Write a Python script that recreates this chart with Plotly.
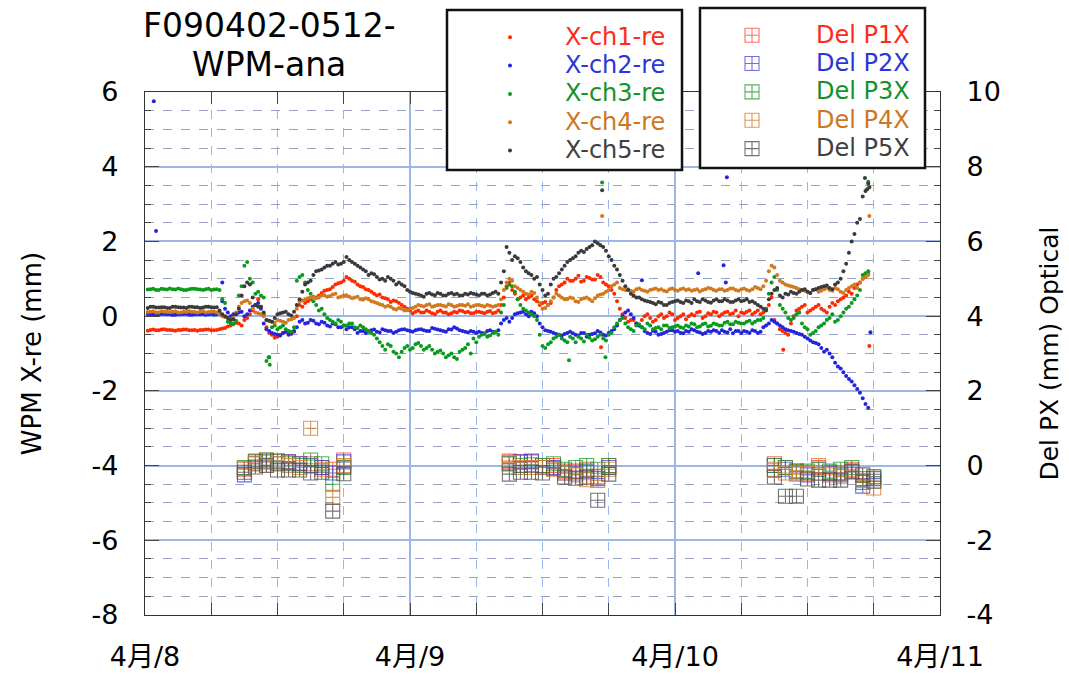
import plotly.graph_objects as go
import pandas as pd

BASE = pd.Timestamp("2009-04-08 00:00")

# sampling grids of the WPM channels (hours after 4/8 00:00)
hours = [0.5 * i for i in range(1, 132)]          # 0.5 .. 65.5
hours_b = [0.25 + 0.5 * i for i in range(131)]    # 0.25 .. 65.25

ch1 = [-0.37, -0.38, -0.36, -0.37, -0.38, -0.37, -0.36, -0.38, -0.37, -0.37, -0.36, -0.38,
       -0.37, -0.33, -0.28, -0.22, -0.20, -0.10, 0.05, 0.30, 0.25, -0.30, -0.50, -0.55,
       -0.45, -0.47, -0.42, 0.30, 0.35, 0.45, 0.50, 0.62, 0.70, 0.78, 0.88, 0.95,
       1.00, 0.92, 0.80, 0.72, 0.65, 0.55, 0.50, 0.45, 0.42, 0.35, 0.25, 0.15,
       0.12, 0.10, 0.15, 0.08, 0.12, 0.10, 0.05, 0.12, 0.15, 0.10, 0.08, 0.12,
       0.10, 0.12, 0.08, 0.15, 0.50, 0.90, 0.60, 0.50, 0.45, 0.55, 0.40, 0.35,
       0.30, 0.50, 0.80, 0.90, 0.95, 1.00, 0.92, 1.05, 0.98, 1.10, 0.90, 0.80,
       0.60, 0.20, -0.05, -0.10, -0.20, -0.10, 0.05, -0.15, 0.00, -0.05, 0.10, -0.10,
       0.00, -0.08, 0.05, 0.10, -0.05, 0.08, 0.12, 0.00, 0.10, 0.05, 0.15, 0.10,
       0.12, 0.05, 0.15, 0.10, 0.30, -0.10, -0.35, -0.45, -0.20, 0.15, 0.25, 0.10,
       0.20, 0.30, 0.15, 0.25, 0.30, 0.45, 0.55, 0.60, 0.85, 1.00, 1.15]
ch1_b = [-0.39, -0.36, -0.38, -0.35, -0.37, -0.39, -0.37, -0.36, -0.38, -0.39, -0.37, -0.36,
         -0.38, -0.35, -0.32, -0.25, -0.18, -0.25, -0.05, 0.15, 0.45, 0.05, -0.45, -0.58,
         -0.50, -0.42, -0.48, 0.00, 0.25, 0.40, 0.52, 0.55, 0.68, 0.72, 0.85, 0.90,
         1.05, 0.95, 0.85, 0.78, 0.70, 0.60, 0.58, 0.48, 0.38, 0.40, 0.30, 0.20,
         0.08, 0.15, 0.10, 0.12, 0.05, 0.15, 0.10, 0.08, 0.10, 0.14, 0.12, 0.08,
         0.12, 0.08, 0.14, 0.10, 0.30, 0.80, 0.70, 0.45, 0.55, 0.50, 0.45, 0.30,
         0.38, 0.35, 0.70, 0.85, 1.00, 0.95, 1.08, 0.95, 1.02, 0.98, 1.05, 0.85,
         0.70, 0.40, 0.05, -0.15, -0.10, -0.25, 0.00, -0.05, -0.10, 0.05, 0.00, 0.05,
         -0.05, 0.05, 0.00, 0.02, 0.12, 0.00, 0.05, 0.10, 0.05, 0.12, 0.08, 0.00,
         0.08, 0.15, 0.10, 0.05, 0.20, 0.50, -0.20, -0.40, -0.50, 0.00, 0.20, 0.30,
         0.15, 0.25, 0.20, 0.10, 0.35, 0.40, 0.50, 0.65, 0.75, 0.90, 1.05]
ch1_out_h = [41.3, 57.8, 65.6]
ch1_out_v = [-0.83, -0.90, -0.80]

ch2 = [0.05, 0.04, 0.06, 0.05, 0.03, 0.05, 0.06, 0.04, 0.05, 0.05, 0.04, 0.06,
       0.05, 0.40, 0.10, 0.05, 0.10, 0.00, 0.15, 0.30, 0.20, -0.35, -0.45, -0.50,
       -0.45, -0.50, -0.40, -0.15, -0.20, -0.10, -0.20, -0.15, -0.25, -0.20, -0.30, -0.25,
       -0.30, -0.35, -0.40, -0.45, -0.38, -0.42, -0.35, -0.40, -0.45, -0.38, -0.35, -0.40,
       -0.38, -0.35, -0.40, -0.32, -0.36, -0.40, -0.35, -0.30, -0.38, -0.42, -0.40, -0.45,
       -0.45, -0.40, -0.42, -0.38, -0.10, -0.15, 0.05, 0.10, 0.05, 0.12, 0.00, -0.30,
       -0.40, -0.45, -0.50, -0.48, -0.42, -0.50, -0.45, -0.55, -0.48, -0.40, -0.50, -0.45,
       -0.35, -0.10, 0.10, 0.05, -0.20, -0.30, -0.45, -0.40, -0.50, -0.45, -0.38, -0.42,
       -0.45, -0.40, -0.35, -0.42, -0.48, -0.40, -0.38, -0.45, -0.42, -0.35, -0.40, -0.45,
       -0.42, -0.38, -0.45, -0.30, -0.20, -0.15, -0.25, -0.35, -0.40, -0.45, -0.50, -0.60,
       -0.70, -0.75, -0.95, -1.00, -1.25, -1.40, -1.60, -1.75, -1.95, -2.20, -2.45]
ch2_b = [0.06, 0.05, 0.04, 0.06, 0.05, 0.04, 0.05, 0.06, 0.04, 0.05, 0.06, 0.05,
         0.04, 0.10, 0.20, 0.00, 0.05, 0.12, 0.05, 0.25, 0.35, -0.20, -0.40, -0.48,
         -0.52, -0.42, -0.45, -0.30, -0.10, -0.18, -0.12, -0.22, -0.18, -0.28, -0.22, -0.30,
         -0.35, -0.30, -0.45, -0.40, -0.42, -0.36, -0.44, -0.38, -0.40, -0.42, -0.36, -0.38,
         -0.42, -0.36, -0.38, -0.40, -0.34, -0.38, -0.42, -0.36, -0.33, -0.40, -0.44, -0.42,
         -0.42, -0.46, -0.38, -0.42, -0.20, -0.05, -0.05, 0.08, 0.12, 0.00, 0.08, -0.20,
         -0.38, -0.42, -0.48, -0.52, -0.45, -0.46, -0.52, -0.45, -0.50, -0.46, -0.44, -0.52,
         -0.40, -0.25, 0.00, 0.15, -0.05, -0.25, -0.40, -0.48, -0.42, -0.48, -0.42, -0.38,
         -0.40, -0.46, -0.42, -0.38, -0.44, -0.45, -0.42, -0.40, -0.38, -0.44, -0.46, -0.40,
         -0.40, -0.45, -0.40, -0.42, -0.25, -0.10, -0.20, -0.30, -0.38, -0.42, -0.48, -0.55,
         -0.65, -0.72, -0.85, -0.90, -1.10, -1.35, -1.50, -1.68, -1.85, -2.05, -2.35]
ch2_out_h = [0.8, 1.0, 7.0, 45.0, 50.1, 52.4, 52.6, 52.7, 65.7]
ch2_out_v = [5.75, 2.28, 0.90, 0.96, 1.15, 1.36, 0.90, 3.72, -0.43]

ch3 = [0.72, 0.70, 0.73, 0.71, 0.72, 0.74, 0.70, 0.72, 0.73, 0.71, 0.72, 0.70,
       0.72, 0.45, -0.15, -0.20, 0.55, 1.35, 1.00, 0.60, 0.55, -1.20, -0.30, -0.35,
       -0.25, -0.40, -0.30, 1.05, 0.90, 0.60, 0.30, 0.20, -0.05, -0.15, -0.10, -0.25,
       -0.20, -0.30, -0.25, -0.35, -0.45, -0.60, -0.80, -0.75, -0.95, -1.10, -0.85, -0.90,
       -0.75, -0.80, -0.85, -0.90, -0.95, -1.00, -1.05, -1.10, -0.95, -0.85, -1.00, -0.70,
       -0.50, -0.55, -0.45, -0.50, 0.30, 0.85, 0.65, 0.30, 0.15, 0.05, -0.10, -0.80,
       -0.75, -0.60, -0.50, -0.65, -0.55, -0.70, -0.60, -0.50, -0.65, -0.55, -0.60, -0.50,
       -0.30, -0.10, -0.20, -0.35, -0.25, -0.30, -0.20, -0.35, -0.30, -0.25, -0.32, -0.28,
       -0.30, -0.25, -0.20, -0.30, -0.22, -0.28, -0.20, -0.25, -0.18, -0.22, -0.15, -0.20,
       -0.15, -0.20, -0.10, -0.05, 0.60, 1.05, 0.30, 0.10, -0.10, 0.05, -0.20, -0.35,
       -0.45, -0.30, -0.20, -0.05, -0.15, 0.00, 0.20, 0.35, 0.55, 1.10, 1.20]
ch3_b = [0.71, 0.73, 0.70, 0.72, 0.74, 0.71, 0.72, 0.70, 0.73, 0.72, 0.70, 0.73,
         0.71, 0.70, 0.35, -0.20, -0.12, 0.80, 1.45, 0.90, 0.65, 0.50, -1.10, -0.25,
         -0.30, -0.35, -0.42, 0.95, 1.10, 0.70, 0.40, 0.15, 0.05, -0.10, -0.20, -0.15,
         -0.25, -0.20, -0.32, -0.30, -0.40, -0.50, -0.70, -0.90, -0.80, -1.00, -0.95, -0.80,
         -0.85, -0.72, -0.90, -0.80, -1.00, -0.92, -1.10, -1.00, -1.15, -0.90, -0.75, -0.60,
         -0.55, -0.48, -0.52, -0.42, 0.10, 0.75, 0.80, 0.45, 0.20, 0.10, 0.00, -0.50,
         -0.85, -0.70, -0.55, -0.60, -0.70, -0.60, -0.55, -0.68, -0.58, -0.62, -0.50, -0.65,
         -0.45, -0.20, -0.05, -0.30, -0.40, -0.22, -0.35, -0.25, -0.32, -0.35, -0.25, -0.30,
         -0.25, -0.32, -0.28, -0.22, -0.28, -0.20, -0.26, -0.22, -0.25, -0.15, -0.22, -0.18,
         -0.20, -0.12, -0.15, -0.10, 0.20, 0.90, 0.70, 0.20, -0.05, -0.05, 0.10, -0.30,
         -0.50, -0.40, -0.25, -0.10, 0.05, -0.10, 0.10, 0.25, 0.45, 0.70, 1.15]
ch3_out_h = [11.2, 11.3, 38.4, 41.4, 41.7, 65.5]
ch3_out_v = [-1.10, -1.30, -1.18, 3.58, -1.10, 3.60]

ch4 = [0.12, 0.10, 0.13, 0.11, 0.12, 0.10, 0.12, 0.13, 0.11, 0.12, 0.10, 0.12,
       0.10, 0.00, -0.05, -0.05, 0.25, 0.40, 0.35, 0.10, 0.05, -0.10, -0.15, -0.10,
       -0.15, -0.10, -0.05, 0.40, 0.45, 0.50, 0.48, 0.55, 0.52, 0.58, 0.50, 0.55,
       0.52, 0.50, 0.45, 0.48, 0.40, 0.35, 0.30, 0.28, 0.20, 0.22, 0.15, 0.20,
       0.25, 0.28, 0.30, 0.25, 0.30, 0.28, 0.32, 0.25, 0.30, 0.28, 0.25, 0.30,
       0.28, 0.30, 0.25, 0.30, 0.70, 1.00, 0.80, 0.70, 0.60, 0.65, 0.50, 0.20,
       0.30, 0.50, 0.55, 0.45, 0.50, 0.40, 0.45, 0.50, 0.40, 0.55, 0.60, 0.70,
       0.85, 0.75, 0.70, 0.68, 0.72, 0.70, 0.65, 0.72, 0.70, 0.68, 0.72, 0.70,
       0.72, 0.70, 0.68, 0.72, 0.70, 0.75, 0.70, 0.72, 0.68, 0.74, 0.70, 0.72,
       0.70, 0.72, 0.75, 0.80, 1.20, 1.30, 0.95, 0.85, 0.80, 0.75, 0.70, 0.65,
       0.70, 0.65, 0.72, 0.70, 0.75, 0.65, 0.70, 0.80, 0.75, 1.00, 1.10]
ch4_b = [0.11, 0.13, 0.10, 0.12, 0.11, 0.13, 0.10, 0.11, 0.12, 0.10, 0.13, 0.11,
         0.12, 0.05, -0.02, -0.08, 0.10, 0.35, 0.42, 0.20, 0.08, 0.00, -0.12, -0.18,
         -0.12, -0.18, -0.08, 0.20, 0.42, 0.48, 0.52, 0.50, 0.56, 0.54, 0.60, 0.52,
         0.56, 0.48, 0.52, 0.44, 0.45, 0.38, 0.32, 0.25, 0.25, 0.18, 0.20, 0.16,
         0.22, 0.30, 0.26, 0.32, 0.27, 0.30, 0.26, 0.30, 0.27, 0.30, 0.32, 0.27,
         0.30, 0.26, 0.28, 0.27, 0.45, 0.90, 0.95, 0.75, 0.65, 0.58, 0.62, 0.35,
         0.22, 0.40, 0.60, 0.50, 0.45, 0.48, 0.38, 0.48, 0.45, 0.48, 0.58, 0.65,
         0.80, 0.90, 0.72, 0.72, 0.66, 0.74, 0.68, 0.70, 0.74, 0.72, 0.66, 0.74,
         0.68, 0.74, 0.72, 0.70, 0.66, 0.72, 0.74, 0.68, 0.72, 0.70, 0.74, 0.68,
         0.74, 0.68, 0.78, 0.72, 0.95, 1.35, 1.10, 0.90, 0.82, 0.78, 0.72, 0.68,
         0.62, 0.72, 0.68, 0.75, 0.68, 0.72, 0.62, 0.75, 0.85, 0.90, 1.05]
ch4_out_h = [41.4, 65.6]
ch4_out_v = [2.68, 2.68]

ch5 = [0.25, 0.23, 0.24, 0.22, 0.25, 0.24, 0.23, 0.25, 0.24, 0.22, 0.25, 0.24,
       0.24, 0.05, -0.05, -0.08, 0.20, 0.80, 0.85, 0.30, 0.25, -0.10, -0.15, 0.05,
       0.10, 0.05, 0.12, 0.45, 0.85, 0.95, 1.20, 1.25, 1.35, 1.40, 1.38, 1.45,
       1.50, 1.40, 1.30, 1.20, 1.15, 1.05, 1.00, 1.05, 0.95, 0.90, 0.80, 0.65,
       0.60, 0.55, 0.60, 0.58, 0.62, 0.55, 0.60, 0.58, 0.55, 0.60, 0.62, 0.58,
       0.60, 0.55, 0.62, 0.60, 1.20, 1.70, 1.60, 1.45, 1.20, 1.10, 1.05, 0.70,
       0.60, 1.00, 1.15, 1.35, 1.50, 1.60, 1.75, 1.80, 1.90, 1.95, 1.85, 1.60,
       1.35, 1.10, 0.80, 0.60, 0.50, 0.45, 0.40, 0.35, 0.38, 0.30, 0.35, 0.40,
       0.38, 0.42, 0.35, 0.40, 0.45, 0.38, 0.42, 0.40, 0.45, 0.38, 0.42, 0.40,
       0.45, 0.40, 0.30, 0.20, 0.45, 0.70, 0.55, 0.60, 0.65, 0.60, 0.70, 0.65,
       0.70, 0.75, 0.80, 0.75, 0.85, 1.00, 1.40, 2.00, 2.50, 3.20, 3.55]
ch5_b = [0.22, 0.25, 0.23, 0.24, 0.22, 0.25, 0.23, 0.22, 0.25, 0.24, 0.23, 0.25,
         0.23, 0.15, 0.00, -0.10, 0.05, 0.55, 0.90, 0.50, 0.25, 0.10, -0.12, -0.05,
         0.08, 0.12, 0.02, 0.30, 0.65, 0.90, 1.10, 1.22, 1.30, 1.35, 1.45, 1.40,
         1.58, 1.45, 1.35, 1.25, 1.10, 1.12, 0.98, 0.95, 1.00, 0.85, 0.85, 0.70,
         0.62, 0.58, 0.52, 0.62, 0.56, 0.60, 0.55, 0.62, 0.60, 0.55, 0.58, 0.60,
         0.55, 0.60, 0.58, 0.65, 0.90, 1.85, 1.50, 1.55, 1.30, 1.15, 1.00, 0.85,
         0.55, 0.85, 1.05, 1.25, 1.45, 1.55, 1.70, 1.72, 1.85, 2.00, 1.90, 1.75,
         1.50, 1.25, 0.95, 0.70, 0.55, 0.50, 0.42, 0.38, 0.32, 0.36, 0.30, 0.38,
         0.42, 0.35, 0.40, 0.45, 0.38, 0.42, 0.36, 0.45, 0.40, 0.42, 0.38, 0.45,
         0.42, 0.38, 0.35, 0.25, 0.15, 0.60, 0.75, 0.50, 0.58, 0.62, 0.65, 0.72,
         0.62, 0.72, 0.78, 0.82, 0.72, 0.90, 1.20, 1.70, 2.20, 2.60, 3.35]
ch5_out_h = [41.4, 65.2, 65.4, 65.6]
ch5_out_v = [3.37, 3.70, 3.40, 3.45]

# optical Del P measurements (hours after 4/8 00:00), right axis values
delp_h = [9, 10, 11, 12, 13, 14, 15, 16, 17, 18,
          33, 34, 35, 36, 37, 38, 39, 40, 41, 42,
          57, 58, 59, 60, 61, 62, 63, 64, 65, 66]
p1x = [-0.10, 0.10, 0.15, 0.12, 0.10, 0.05, 0.05, -0.05, -0.10, 0.15,
       0.12, 0.10, 0.10, 0.00, 0.00, -0.15, -0.15, -0.10, -0.30, 0.00,
       0.05, -0.05, -0.15, -0.20, -0.05, -0.20, -0.20, -0.10, -0.35, -0.30]
p2x = [-0.25, 0.05, 0.10, 0.05, 0.10, 0.05, 0.00, -0.05, -0.20, 0.10,
       0.05, 0.10, 0.12, -0.05, -0.05, -0.20, -0.20, -0.15, -0.35, -0.05,
       0.00, -0.10, -0.20, -0.25, -0.10, -0.20, -0.25, -0.15, -0.55, -0.35]
p3x = [-0.05, 0.12, 0.15, 0.12, 0.05, 0.00, 0.15, 0.05, -0.50, -0.05,
       0.05, 0.00, 0.02, 0.00, 0.05, -0.10, -0.05, 0.00, -0.10, 0.00,
       0.00, -0.05, -0.15, -0.15, -0.10, -0.15, -0.10, -0.05, -0.45, -0.30]
p4x = [-0.08, 0.05, 0.00, 0.05, 0.00, -0.05, 1.00, -0.10, -0.85, 0.00,
       0.08, -0.05, -0.05, -0.05, -0.10, -0.20, -0.25, -0.38, -0.40, -0.10,
       -0.10, -0.20, -0.23, -0.20, 0.00, -0.25, -0.30, -0.15, -0.40, -0.60]
p5x = [-0.18, -0.04, 0.01, -0.12, -0.12, -0.12, -0.20, -0.18, -1.22, -0.22,
       -0.23, -0.18, -0.18, -0.20, -0.07, -0.31, -0.34, -0.31, -0.93, -0.23,
       -0.31, -0.82, -0.82, -0.36, -0.39, -0.39, -0.39, -0.17, -0.25, -0.42]

x_ticks = ["2009-04-08", "2009-04-09", "2009-04-10", "2009-04-11"]
x_ticktext = ["4月/8", "4月/9", "4月/10", "4月/11"]
y_ticks = [-8, -6, -4, -2, 0, 2, 4, 6]
y_ticktext = ["-8", "-6", "-4", "-2", "0", "2", "4", "6"]
y2_ticks = [-4, -2, 0, 2, 4, 6, 8, 10]
y2_ticktext = ["-4", "-2", "0", "2", "4", "6", "8", "10"]

FONT = "DejaVu Sans, Noto Sans CJK JP, sans-serif"


def to_dt(hs):
    return [BASE + pd.Timedelta(hours=h) for h in hs]


fig = go.Figure()

wpm = [
    ("X-ch1-re", ch1, ch1_b, ch1_out_h, ch1_out_v, "#ff2a00", "#ff2a1a"),
    ("X-ch2-re", ch2, ch2_b, ch2_out_h, ch2_out_v, "#2424dc", "#2b35d9"),
    ("X-ch3-re", ch3, ch3_b, ch3_out_h, ch3_out_v, "#0a9a1e", "#16912a"),
    ("X-ch4-re", ch4, ch4_b, ch4_out_h, ch4_out_v, "#d2781e", "#cc7722"),
    ("X-ch5-re", ch5, ch5_b, ch5_out_h, ch5_out_v, "#3a3a3a", "#404040"),
]
for name, va, vb, oh, ov, col, tcol in wpm:
    fig.add_trace(go.Scatter(
        x=to_dt(hours + hours_b + oh), y=va + vb + ov, mode="markers",
        marker=dict(size=4, color=col),
        name=f"<span style='font-size:24px;color:{tcol}'>{name}</span>",
        legend="legend",
    ))

delp = [
    ("Del P1X", p1x, "rgba(255,60,40,0.75)", "#ff2a1a"),
    ("Del P2X", p2x, "rgba(60,60,220,0.75)", "#2b35d9"),
    ("Del P3X", p3x, "rgba(30,150,40,0.75)", "#16912a"),
    ("Del P4X", p4x, "rgba(215,125,45,0.8)", "#cc7722"),
    ("Del P5X", p5x, "rgba(80,80,80,0.8)", "#404040"),
]
for name, vals, col, tcol in delp:
    fig.add_trace(go.Scatter(
        x=to_dt(delp_h), y=vals, mode="markers", yaxis="y2",
        marker=dict(symbol="square-cross-open", size=14, color=col,
                    line=dict(width=1.1)),
        name=f"<span style='font-size:24px;color:{tcol}'>{name}</span>",
        legend="legend2",
    ))

W, H = 1069, 674
L, R, T, B = 145, 129, 92, 59
pw, ph = W - L - R, H - T - B


def px(xp):
    return (xp - L) / pw


def py(yp):
    return (H - B - yp) / ph


GRID_MAJOR = "#9db6e6"
GRID_MINOR = "#94a3c6"

fig.update_layout(
    width=W, height=H,
    margin=dict(l=L, r=R, t=T, b=B, autoexpand=False),
    paper_bgcolor="white", plot_bgcolor="white",
    font=dict(family=FONT, size=27, color="black"),
    showlegend=True,
    xaxis=dict(
        type="date", automargin=False,
        range=[x_ticks[0], x_ticks[-1]],
        tickvals=x_ticks, ticktext=x_ticktext,
        ticks="inside", ticklen=12, tickcolor="#444",
        showline=True, linecolor="#333", linewidth=1.2, mirror="allticks",
        showgrid=True, gridcolor=GRID_MAJOR, gridwidth=1.5,
        ticklabelstandoff=17,
        minor=dict(dtick=6 * 3600 * 1000, ticks="inside", ticklen=12,
                   tickcolor="#444", showgrid=True, gridcolor=GRID_MAJOR,
                   griddash="dash", gridwidth=1),
        zeroline=False,
        tickfont=dict(size=27),
    ),
    yaxis=dict(
        range=[-8, 6], automargin=False,
        tickvals=y_ticks, ticktext=y_ticktext,
        ticks="inside", ticklen=14, tickcolor="#444",
        showline=True, linecolor="#333", linewidth=1.2,
        showgrid=True, gridcolor=GRID_MAJOR, gridwidth=1.5,
        zeroline=False,
        ticklabelstandoff=20,
        minor=dict(dtick=0.5, tick0=0, ticks="inside", ticklen=6, tickcolor="#444",
                   showgrid=True, gridcolor=GRID_MINOR, griddash="dash",
                   gridwidth=1),
        title=dict(text="WPM X-re (mm)", font=dict(size=26), standoff=42),
        tickfont=dict(size=27),
    ),
    yaxis2=dict(
        range=[-4, 10], overlaying="y", side="right", automargin=False,
        tickvals=y2_ticks, ticktext=y2_ticktext,
        ticks="inside", ticklen=14, tickcolor="#444",
        showline=True, linecolor="#333", linewidth=1.2,
        showgrid=False, zeroline=False,
        ticklabelstandoff=20,
        minor=dict(dtick=0.5, tick0=0, ticks="inside", ticklen=6, tickcolor="#444"),
        title=dict(text="Del PX (mm) Optical", font=dict(size=25), standoff=40),
        tickfont=dict(size=27),
    ),
    legend=dict(
        x=px(455), y=py(18), xanchor="left", yanchor="top",
        bgcolor="rgba(0,0,0,0)", borderwidth=0,
        font=dict(size=19.5), itemwidth=100, tracegroupgap=0,
    ),
    legend2=dict(
        x=px(688), y=py(16), xanchor="left", yanchor="top",
        bgcolor="rgba(0,0,0,0)", borderwidth=0,
        font=dict(size=19.5), itemwidth=118, tracegroupgap=0,
    ),
    shapes=[
        dict(type="rect", xref="paper", yref="paper",
             x0=px(447), x1=px(682), y0=py(170), y1=py(10),
             line=dict(color="#111", width=2.5), fillcolor="white", layer="above"),
        dict(type="rect", xref="paper", yref="paper",
             x0=px(700), x1=px(925), y0=py(168), y1=py(8),
             line=dict(color="#111", width=2.5), fillcolor="white", layer="above"),
    ],
    annotations=[
        dict(text="F090402-0512-", xref="paper", yref="paper",
             x=px(269), y=py(25), xanchor="center", yanchor="middle",
             showarrow=False, font=dict(size=33, color="black")),
        dict(text="WPM-ana", xref="paper", yref="paper",
             x=px(269), y=py(64), xanchor="center", yanchor="middle",
             showarrow=False, font=dict(size=33, color="black")),
    ],
)

fig.write_html("out.html")
